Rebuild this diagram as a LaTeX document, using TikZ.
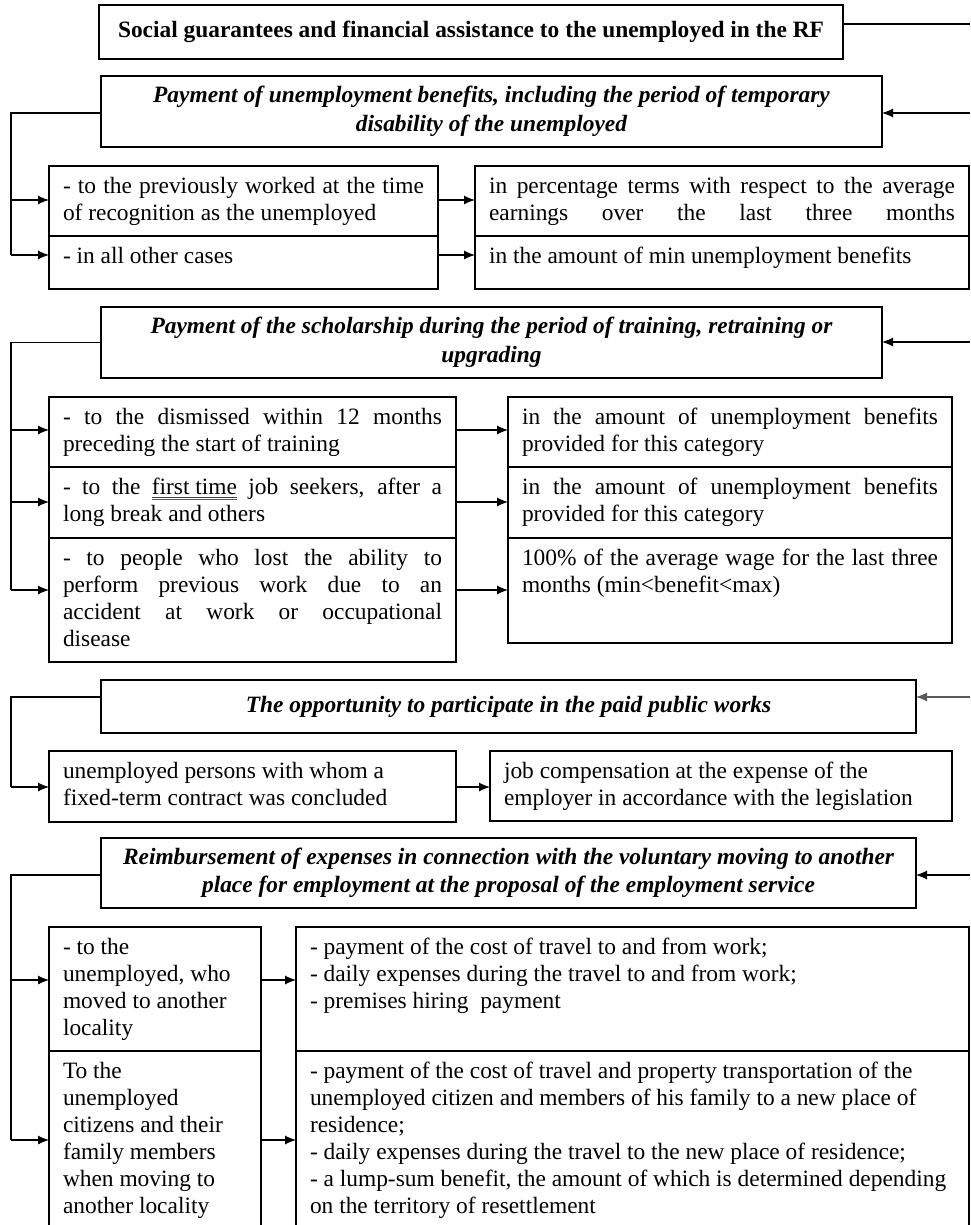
\documentclass[tikz,border=0pt]{standalone}
\usepackage{fontspec}
\setmainfont{Liberation Serif}
\usetikzlibrary{arrows.meta}
\definecolor{spellblue}{RGB}{40,90,230}
\hbadness=10000
\vbadness=10000
\newcommand\cellfont{\fontsize{23.4pt}{27pt}\selectfont}
\newcommand\headfont{\fontsize{23.4pt}{28.5pt}\selectfont\bfseries\itshape}
% word with a thin underline and a blue proofing line below it
\newcommand\markedword[1]{\setbox0=\hbox{#1}%
  \rlap{\color{black!75}\rule[-2.6pt]{\wd0}{0.7pt}}%
  \rlap{\color{spellblue}\rule[-5.4pt]{\wd0}{1.5pt}}\box0\relax}
% table cell: name, x, y (top left), width, height, text
\newcommand\cellnode[6]{%
  \node[cellbox, minimum width=#4pt, minimum height=#5pt] (#1) at (#2,#3)
    {\parbox[t][\dimexpr#5pt-18pt\relax][t]{\dimexpr#4pt-28pt\relax}{\strut#6}};}
% section heading: name, x, y (top left), width, height, text
\newcommand\headnode[6]{%
  \node[headbox, minimum width=#4pt, minimum height=#5pt] (#1) at (#2,#3)
    {\parbox{\dimexpr#4pt-28pt\relax}{\centering #6}};}
\tikzset{
  cellbox/.style={draw, line width=1.1pt, anchor=north west, inner xsep=14pt,
    inner ysep=9pt, outer sep=0pt, font=\cellfont},
  headbox/.style={draw, line width=1.1pt, anchor=north west, inner xsep=14pt,
    inner ysep=0pt, outer sep=0pt, font=\headfont},
  conn/.style={line width=1.1pt},
  arr/.style={-{Latex[length=11pt,width=9pt]}}
}
\begin{document}
\begin{tikzpicture}[x=1pt,y=-1pt]
\useasboundingbox (0,0) rectangle (970,1225);
\fill[white] (0,0) rectangle (970,1225);
\clip (0,0) rectangle (970,1225);

% title
\node[headbox, font=\fontsize{23.4pt}{27pt}\selectfont\bfseries,
  minimum width=744pt, minimum height=54pt] (T) at (99,5)
  {\raisebox{4pt}{Social guarantees and financial assistance to the unemployed in the RF}};
\coordinate (r0) at (970,24);
\draw[conn] (T.east |- r0) -- (r0);

% ---------- section 1 ----------
\headnode{H1}{101}{76}{781}{71}{Payment of unemployment benefits, including the period of temporary\\ disability of the unemployed}
\cellnode{L1a}{49}{166}{389}{70}{- to the previously worked at the time\linebreak of recognition as the unemployed}
\cellnode{L1b}{49}{236}{389}{53}{- in all other cases}
\cellnode{R1a}{475}{166}{494}{70}{\parfillskip=0pt in percentage terms with respect to the average\linebreak earnings over the last three months}
\cellnode{R1b}{475}{236}{494}{53}{in the amount of min unemployment benefits}

\coordinate (r1) at (970,113);
\draw[conn,arr] (r1) -- (H1.east |- r1);
\coordinate (k1) at (11,255);
\coordinate (y1h) at (0,113);
\coordinate (y1a) at (0,200);
\coordinate (y1b) at (0,255);
\draw[conn] (H1.west |- y1h) -- (k1 |- y1h) -- (k1);
\draw[conn,arr] (k1 |- y1a) -- (L1a.west |- y1a);
\draw[conn,arr] (k1 |- y1b) -- (L1b.west |- y1b);
\draw[conn,arr] (L1a.east |- y1a) -- (R1a.west |- y1a);
\draw[conn,arr] (L1b.east |- y1b) -- (R1b.west |- y1b);

% ---------- section 2 ----------
\headnode{H2}{101}{307}{781}{71}{Payment of the scholarship during the period of training, retraining or\\ upgrading}
\cellnode{L2a}{49}{397}{407}{70}{- to the dismissed within 12 months\linebreak preceding the start of training}
\cellnode{L2b}{49}{467}{407}{71}{- to the \markedword{first time} job seekers, after a\linebreak long break and others}
\cellnode{L2c}{49}{538}{407}{124}{- to people who lost the ability to\linebreak perform previous work due to an\linebreak accident at work or occupational\linebreak disease}
\cellnode{R2a}{508}{397}{444}{70}{in the amount of unemployment benefits\linebreak provided for this category}
\cellnode{R2b}{508}{467}{444}{71}{in the amount of unemployment benefits\linebreak provided for this category}
\cellnode{R2c}{508}{538}{444}{105}{100\% of the average wage for the last three\linebreak months (min<benefit<max)}
\draw[line width=2.6pt] (L2a.south west) -- (L2a.south east);

\coordinate (r2) at (970,342);
\draw[conn,arr] (r2) -- (H2.east |- r2);
\coordinate (k2) at (11,590);
\coordinate (y2a) at (0,430);
\coordinate (y2b) at (0,502);
\coordinate (y2c) at (0,590);
\draw[conn] (H2.west) -- (k2 |- H2.west) -- (k2);
\draw[conn,arr] (k2 |- y2a) -- (L2a.west |- y2a);
\draw[conn,arr] (k2 |- y2b) -- (L2b.west |- y2b);
\draw[conn,arr] (k2 |- y2c) -- (L2c.west |- y2c);
\draw[conn,arr] (L2a.east |- y2a) -- (R2a.west |- y2a);
\draw[conn,arr] (L2b.east |- y2b) -- (R2b.west |- y2b);
\draw[conn,arr] (L2c.east |- y2c) -- (R2c.west |- y2c);

% ---------- section 3 ----------
\headnode{H3}{101}{680}{815}{53}{The opportunity to participate in the paid public works}
\cellnode{L3}{49}{751}{407}{71}{\raggedright unemployed persons with whom a\\ fixed-term contract was concluded}
\cellnode{R3}{490}{751}{462}{70}{\raggedright job compensation at the expense of the\\ employer in accordance with the legislation}

\coordinate (r3) at (970,697);
\draw[conn,arr,draw=black!65] (r3) -- (H3.east |- r3);
\coordinate (k3) at (11,787);
\coordinate (y3h) at (0,697);
\coordinate (y3a) at (0,787);
\draw[conn] (H3.west |- y3h) -- (k3 |- y3h) -- (k3);
\draw[conn,arr] (k3 |- y3a) -- (L3.west |- y3a);
\draw[conn,arr] (L3.east |- y3a) -- (R3.west |- y3a);

% ---------- section 4 ----------
\headnode{H4}{101}{838}{815}{70}{Reimbursement of expenses in connection with the voluntary moving to another\\ place for employment at the proposal of the employment service}
\cellnode{L4a}{49}{927}{212}{124}{\raggedright - to the\\ unemployed, who\\ moved to another\\ locality}
\cellnode{L4b}{49}{1051}{212}{190}{\raggedright To the\\ unemployed\\ citizens and their\\ family members\\ when moving to\\ another locality}
\cellnode{R4a}{296}{927}{673}{124}{\raggedright - payment of the cost of travel to and from work;\\ - daily expenses during the travel to and from work;\\ - premises hiring~ payment}
\cellnode{R4b}{296}{1051}{673}{190}{\raggedright - payment of the cost of travel and property transportation of the\\ unemployed citizen and members of his family to a new place of\\ residence;\\ - daily expenses during the travel to the new place of residence;\\ - a lump-sum benefit, the amount of which is determined depending\\ on the territory of resettlement}

\coordinate (r4) at (970,875);
\draw[conn,arr] (r4) -- (H4.east |- r4);
\coordinate (k4) at (11,1140);
\coordinate (y4h) at (0,875);
\coordinate (y4a) at (0,980);
\coordinate (y4b) at (0,1140);
\draw[conn] (H4.west |- y4h) -- (k4 |- y4h) -- (k4);
\draw[conn,arr] (k4 |- y4a) -- (L4a.west |- y4a);
\draw[conn,arr] (k4 |- y4b) -- (L4b.west |- y4b);
\draw[conn,arr] (L4a.east |- y4a) -- (R4a.west |- y4a);
\draw[conn,arr] (L4b.east |- y4b) -- (R4b.west |- y4b);
\end{tikzpicture}
\end{document}
